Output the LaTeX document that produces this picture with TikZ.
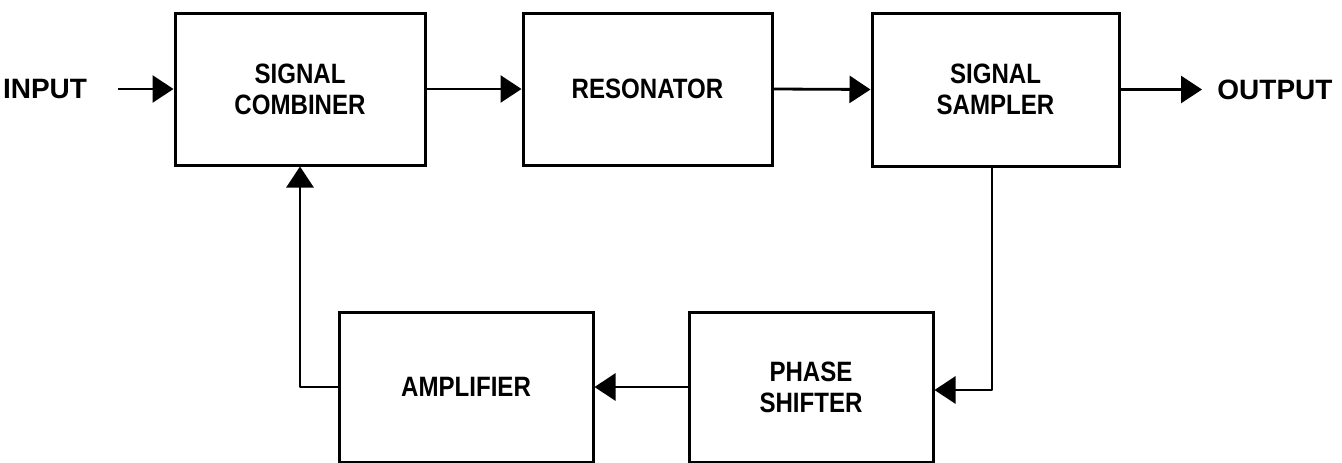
\documentclass[tikz,border=0pt]{standalone}
\usepackage{fontspec}
\setmainfont{Liberation Sans}[FakeStretch=0.86]
\newfontfamily\labelfont{Liberation Sans}
\usetikzlibrary{arrows.meta,calc}
\begin{document}
\begin{tikzpicture}[x=1pt,y=-1pt,
  blk/.style={draw, line width=3pt, inner sep=0pt, align=center,
    font=\bfseries\fontsize{28}{31}\selectfont},
  lbl/.style={inner sep=0pt, font=\labelfont\bfseries\fontsize{28}{31}\selectfont},
  arr/.style={line width=2.8pt, line join=round,
    -{Triangle[length=21pt,width=27pt]}}]
\useasboundingbox (0,0) rectangle (1342,463);
\node[blk, minimum width=250pt, minimum height=152pt] (comb) at (300,89) {SIGNAL\\COMBINER};
\node[blk, minimum width=249pt, minimum height=152pt] (reson) at (647.5,89) {RESONATOR};
\node[blk, minimum width=247pt, minimum height=153pt] (samp) at (995.5,89.5) {SIGNAL\\SAMPLER};
\node[blk, minimum width=254pt, minimum height=150pt] (amp) at (466,387) {AMPLIFIER};
\node[blk, minimum width=244pt, minimum height=150pt] (phase) at (811,387) {PHASE\\SHIFTER};
\node[lbl] (input) at (45,89) {INPUT};
\node[lbl] (output) at (1275,90) {OUTPUT};
\coordinate (instart) at (118,89);
\coordinate (outtip) at (1202,89.5);
\draw[arr] (instart) -- (comb.west);
\draw[arr] (comb.east) -- (reson.west);
\draw[arr] (reson.east) -- (samp.west);
\draw[arr] (samp.east) -- (outtip);
\draw[arr] ($(samp.south)+(-3.5,0)$) |- ($(phase.east)+(0,3)$);
\draw[arr] (phase.west) -- (amp.east);
\draw[arr] (amp.west) -| (comb.south);
\end{tikzpicture}
\end{document}
